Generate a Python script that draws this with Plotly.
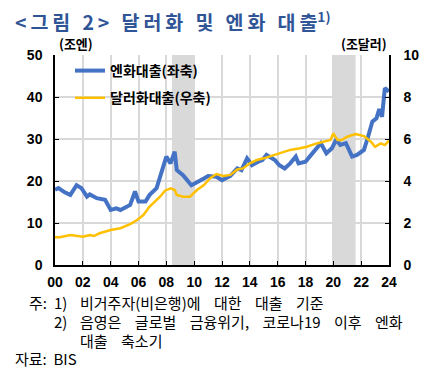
import plotly.graph_objects as go

# ---- data ----
yen_x = [2000.0, 2000.25, 2000.7, 2001.1, 2001.55, 2001.9, 2002.3, 2002.5, 2003.0, 2003.6,
         2004.0, 2004.4, 2004.7, 2005.4, 2005.75, 2006.0, 2006.5, 2006.8, 2007.3, 2007.7,
         2008.0, 2008.3, 2008.6, 2008.75, 2009.2, 2009.8, 2010.2, 2010.7, 2011.0, 2011.6,
         2012.0, 2012.6, 2013.1, 2013.4, 2013.8, 2014.15, 2014.6, 2014.9, 2015.2, 2015.6,
         2015.8, 2016.1, 2016.5, 2016.9, 2017.3, 2017.5, 2018.0, 2018.3, 2018.7, 2019.1,
         2019.5, 2019.9, 2020.2, 2020.5, 2020.9, 2021.35, 2021.7, 2022.2, 2022.5, 2022.8,
         2023.1, 2023.3, 2023.5, 2023.7, 2024.0]
yen_loans = [17.9, 18.3, 17.3, 16.7, 19.0, 18.3, 16.3, 16.8, 15.9, 15.5,
             13.1, 13.5, 13.1, 14.3, 17.5, 15.1, 15.1, 16.7, 18.3, 22.2,
             25.8, 24.2, 27.0, 22.6, 21.4, 19.0, 19.6, 20.6, 21.2, 21.0,
             20.2, 21.2, 23.0, 22.6, 25.4, 23.8, 24.6, 25.0, 26.2, 25.4,
             25.0, 23.8, 23.0, 24.2, 25.8, 24.2, 24.6, 25.8, 27.4, 29.0,
             26.6, 27.8, 29.8, 28.6, 29.0, 25.8, 26.2, 27.4, 30.6, 34.1,
             34.9, 37.1, 35.3, 42.1, 41.3]

usd_x = [2000.0, 2000.35, 2001.1, 2001.55, 2002.0, 2002.5, 2002.8, 2003.2, 2004.0, 2004.7,
         2005.4, 2005.9, 2006.35, 2006.8, 2007.55, 2007.9, 2008.3, 2008.6, 2008.75, 2009.2,
         2009.7, 2010.2, 2010.7, 2011.15, 2011.6, 2012.1, 2012.6, 2013.1, 2013.5, 2014.0,
         2014.5, 2015.0, 2015.7, 2016.2, 2016.9, 2017.6, 2018.1, 2018.8, 2019.5, 2019.8,
         2020.0, 2020.3, 2020.6, 2021.0, 2021.6, 2022.2, 2022.7, 2023.0, 2023.4, 2023.7,
         2024.0]
usd_loans = [1.32, 1.32, 1.43, 1.38, 1.35, 1.43, 1.38, 1.51, 1.67, 1.75,
             1.95, 2.14, 2.38, 2.78, 3.25, 3.54, 3.65, 3.57, 3.33, 3.25,
             3.25, 3.57, 3.81, 4.13, 4.33, 4.24, 4.29, 4.55, 4.60, 4.84,
             5.00, 5.08, 5.24, 5.35, 5.48, 5.56, 5.63, 5.79, 5.92, 5.95,
             6.27, 5.95, 5.95, 6.11, 6.24, 6.14, 5.87, 5.63, 5.79, 5.71,
             5.92]

x_tickvals = list(range(2000, 2025, 2))
x_ticktext = ["00", "02", "04", "06", "08", "10", "12", "14", "16", "18", "20", "22", "24"]
left_ticks = [0, 10, 20, 30, 40, 50]
right_ticks = [0, 2, 4, 6, 8, 10]
shade_periods = [(2008.4, 2010.0), (2020.0, 2021.6)]

title_text = "<그림 2> 달러화 및 엔화 대출"
note_1 = "비거주자(비은행)에    대한    대출    기준"
note_2 = "음영은    글로벌    금융위기,    코로나19    이후    엔화"
note_3 = "대출    축소기"
source = "자료:  BIS"

# ---- layout geometry ----
W, H = 437, 373
L, R, T, B = 55, 48, 55, 108
PW, PH = W - L - R, H - T - B

def px(xp):
    return (xp - L) / PW

def py(yp):
    return (H - B - yp) / PH

KR = "Noto Sans CJK KR"
NUM = "Liberation Sans"
GRID = "#D9D9D9"

fig = go.Figure()
fig.add_trace(go.Scatter(x=yen_x, y=yen_loans, mode="lines", name="엔화대출(좌축)",
                         line=dict(color="#4472C4", width=4), legendgroup="a"))
fig.add_trace(go.Scatter(x=usd_x, y=usd_loans, mode="lines", name="달러화대출(우축)",
                         line=dict(color="#FFC000", width=2.5), yaxis="y2", legendgroup="b"))

shapes = []
for a, b in shade_periods:
    shapes.append(dict(type="rect", xref="x", yref="paper", x0=a, x1=b, y0=0, y1=1,
                       fillcolor=GRID, line=dict(width=0), layer="below"))

ann = []
unitf = dict(family=KR, size=13, color="black", weight="bold")
ann.append(dict(text="(조엔)", x=px(57), y=py(43), xanchor="left", yanchor="middle", font=unitf))
ann.append(dict(text="(조달러)", x=px(389), y=py(43), xanchor="right", yanchor="middle", font=unitf))
foot = dict(family=KR, size=15, color="black")
ann.append(dict(text="주:", x=px(27), y=py(302), xanchor="left", yanchor="middle", font=foot))
ann.append(dict(text="1)", x=px(52), y=py(302), xanchor="left", yanchor="middle", font=foot))
ann.append(dict(text=note_1, x=px(78), y=py(302), xanchor="left", yanchor="middle", font=foot))
ann.append(dict(text="2)", x=px(52), y=py(321), xanchor="left", yanchor="middle", font=foot))
ann.append(dict(text=note_2, x=px(78), y=py(321), xanchor="left", yanchor="middle", font=foot))
ann.append(dict(text=note_3, x=px(78), y=py(340), xanchor="left", yanchor="middle", font=foot))
ann.append(dict(text=source, x=px(13), y=py(358), xanchor="left", yanchor="middle", font=foot))
for a_ in ann:
    a_.update(xref="paper", yref="paper", showarrow=False)

spaced_title = "\u2009".join(title_text.replace("<", "\u0001").replace(">", "\u0002"))
spaced_title = spaced_title.replace("\u0001", "&lt;").replace("\u0002", "&gt;")

fig.update_layout(
    width=W, height=H,
    margin=dict(l=L, r=R, t=T, b=B),
    paper_bgcolor="white", plot_bgcolor="white",
    title=dict(text=spaced_title + "<sup>1)</sup>", x=15 / W, xanchor="left",
               xref="container", y=1 - 23 / H, yref="container", yanchor="middle",
               font=dict(family=KR, size=19.5, color="#2F5597", weight="bold")),
    xaxis=dict(range=[2000, 2024], tickvals=x_tickvals, ticktext=x_ticktext,
               showgrid=True, gridcolor=GRID, gridwidth=1.5,
               showline=True, linecolor="black", linewidth=1.5,
               ticks="inside", ticklen=4, tickcolor="black", tickwidth=1.2,
               ticklabelstandoff=3,
               tickfont=dict(family=NUM, size=14, color="black", weight="bold"),
               zeroline=False),
    yaxis=dict(range=[0, 50], tickvals=left_ticks,
               showgrid=True, gridcolor=GRID, gridwidth=1.5,
               showline=True, linecolor="black", linewidth=1.5,
               ticks="inside", ticklen=4, tickcolor="black", tickwidth=1.2,
               ticklabelstandoff=8,
               tickfont=dict(family=NUM, size=14, color="black", weight="bold"),
               zeroline=False),
    yaxis2=dict(range=[0, 10], tickvals=right_ticks, overlaying="y", side="right",
                showgrid=False, showline=True, linecolor="black", linewidth=1.5,
                ticks="inside", ticklen=4, tickcolor="black", tickwidth=1.2,
                ticklabelstandoff=10,
                tickfont=dict(family=NUM, size=14, color="black", weight="bold"),
                zeroline=False),
    legend=dict(x=px(70), y=py(55), xanchor="left", yanchor="top",
                bgcolor="rgba(0,0,0,0)", traceorder="grouped", tracegroupgap=6,
                font=dict(family=KR, size=14, color="black", weight="bold"),
                itemwidth=30),
    showlegend=True,
    shapes=shapes,
    annotations=ann,
)

fig.write_html("out.html", config={"displayModeBar": False},
               post_script="document.body.style.margin='0px';document.body.style.overflow='hidden';")
